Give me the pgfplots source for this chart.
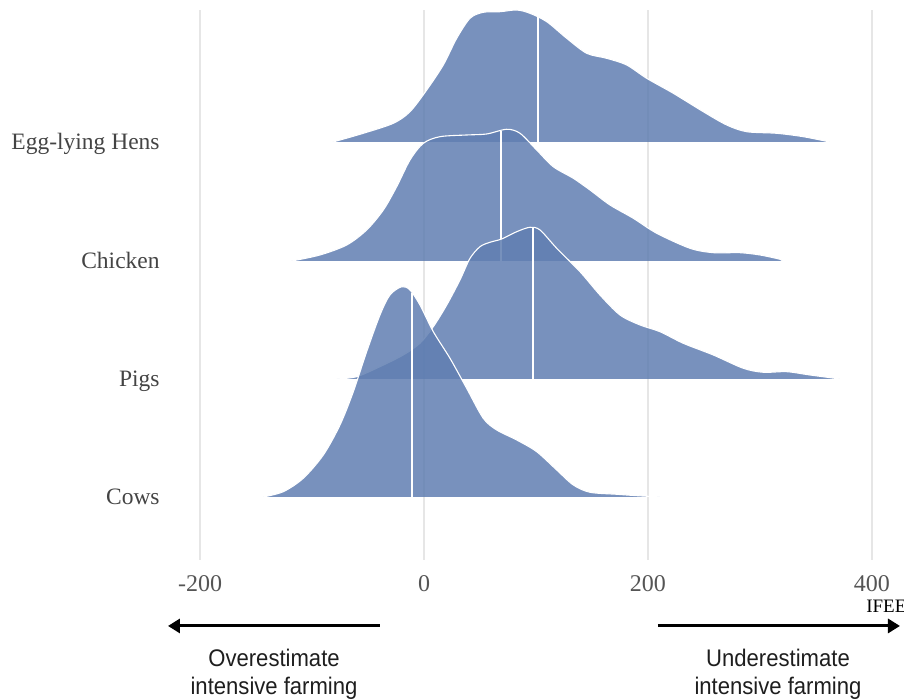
\documentclass[border=0pt]{standalone}
\usepackage{pgfplots}
\pgfplotsset{compat=1.18}
\usepackage{fontspec}
\setmainfont{Liberation Serif}
\newfontfamily\condfont[FakeStretch=0.92]{Liberation Sans}
\usetikzlibrary{arrows.meta}
\definecolor{ridge}{RGB}{96,126,177}
\definecolor{gridc}{RGB}{230,230,230}
\definecolor{labc}{RGB}{68,68,68}
\definecolor{tickc}{RGB}{85,85,85}
\pgfplotsset{ridgefill/.style={smooth, fill=ridge, fill opacity=0.85, draw=none},
  ridgeline/.style={smooth, draw=white, line width=0.55bp}}
\begin{document}
\begin{tikzpicture}
\begin{axis}[
  x=0.56bp, y=0.5bp,
  xmin=-200, xmax=400, ymin=140, ymax=690,
  clip=false,
  axis line style={draw=none},
  tick style={draw=none},
  major tick length=0pt,
  xtick={-200,0,200,400},
  xticklabels={-200,0,200,400},
  xmajorgrids,
  grid style={gridc, line width=0.6bp},
  xticklabel style={anchor=base, yshift=-15.85bp, font=\fontsize{12bp}{14bp}\selectfont, text=tickc},
  ytick={203,321,439,558},
  yticklabels={Cows,Pigs,Chicken,Egg-lying Hens},
  yticklabel style={anchor=base east, inner sep=0pt, xshift=-20bp, yshift=-4bp, font=\fontsize{11.75bp}{14bp}\selectfont, text=labc},
]
% Egg-lying Hens
\pgfplotstableread{
x y
-81.3 558
-54.2 566.7
-27.4 576.7
-12.5 588.3
2.4 610
17.2 635
29.2 661.7
41.1 681.7
52.9 687.7
67.9 688.3
82.8 690
94.6 686.7
109.6 678.3
127.4 661.7
145.3 646.7
163.1 641.7
181.0 635
198.8 621.7
222.6 606.7
249.4 588.3
270.3 575
288.1 568.3
314.9 566.7
338.7 563.3
362.5 558
}\hens
\pgfplotstableread{
x y
-118.1 439
-92.9 445
-69.0 455
-51.2 470
-36.3 490
-24.4 513.3
-12.5 540
-0.6 556.7
14.3 563.3
38.1 565
56.0 566
73.8 570.7
85.7 566.7
100.6 550
115.4 533.3
133.3 521.7
148.2 510
166.1 495
186.9 481.7
207.8 466.7
237.5 451.7
258.3 447.3
282.1 447.3
300 445
317.9 440.7
319.6 439
}\chicken
\pgfplotstableread{
x y
-77.9 321
-60.1 323.3
-39.3 333.3
-18.5 345
-3.6 356.7
8.3 373.3
20.3 395
32.1 420
41.1 441.7
50.0 453.3
58.9 457.7
69.4 461
82.8 468.3
94.6 472.7
103.6 470
118.5 451.7
139.3 428.3
157.1 405
175.0 385
192.9 375
210.7 368.3
231.5 356.7
258.3 345
285.1 331.7
302.9 327.7
323.8 328.3
344.6 325
371.4 321
}\pigs
\pgfplotstableread{
x y
-143.5 203
-125.6 208.3
-107.8 221.7
-89.9 245
-75.0 275
-63.1 308.3
-51.2 348.3
-39.3 385
-30.4 405
-19.9 413.3
-12.5 410
-3.6 395
8.3 368.3
23.2 341.7
38.1 311.7
52.9 281.7
64.9 270
82.8 260
100.6 248.3
118.5 230
133.3 215
148.2 207.7
172.1 205.7
189.9 204.3
210.7 203
}\cows
\addplot[ridgefill] table {\hens} -- cycle;
\addplot[ridgeline] table {\hens};
\addplot[white, line width=1bp] coordinates {(101.8,558) (101.8,682.5)};
\addplot[ridgefill] table {\chicken} -- cycle;
\addplot[ridgeline] table {\chicken};
\addplot[white, line width=1bp] coordinates {(68.75,439) (68.75,569)};
\addplot[ridgefill] table {\pigs} -- cycle;
\addplot[ridgeline] table {\pigs};
\addplot[white, line width=1bp] coordinates {(97.3,321) (97.3,471.7)};
\addplot[ridgefill] table {\cows} -- cycle;
\addplot[ridgeline] table {\cows};
\addplot[white, line width=1bp] coordinates {(-10.7,203) (-10.7,407)};
% annotations
\draw[line width=1.5bp, -{Triangle[length=6bp,width=7bp]}] (axis cs:-39.3,74) -- (axis cs:-228.6,74);
\draw[line width=1.5bp, -{Triangle[length=6bp,width=7bp]}] (axis cs:208.9,74) -- (axis cs:425,74);
\node[align=center, font=\condfont\fontsize{12bp}{14bp}\selectfont, text={rgb,255:red,30;green,30;blue,30}] at (axis cs:-133.9,26) {Overestimate\\intensive farming};
\node[align=center, font=\condfont\fontsize{12bp}{14bp}\selectfont, text={rgb,255:red,30;green,30;blue,30}] at (axis cs:316.1,26) {Underestimate\\intensive farming};
\node[anchor=west, inner sep=0pt, font=\fontsize{9.5bp}{11bp}\selectfont] at (axis cs:394.6,94) {IFEE};
\coordinate (bbl) at (axis cs:-378.6,0);
\coordinate (bbr) at (axis cs:428.6,700);
\end{axis}
\pgfresetboundingbox
\path[use as bounding box] (bbl) rectangle (bbr);
\end{tikzpicture}
\end{document}
